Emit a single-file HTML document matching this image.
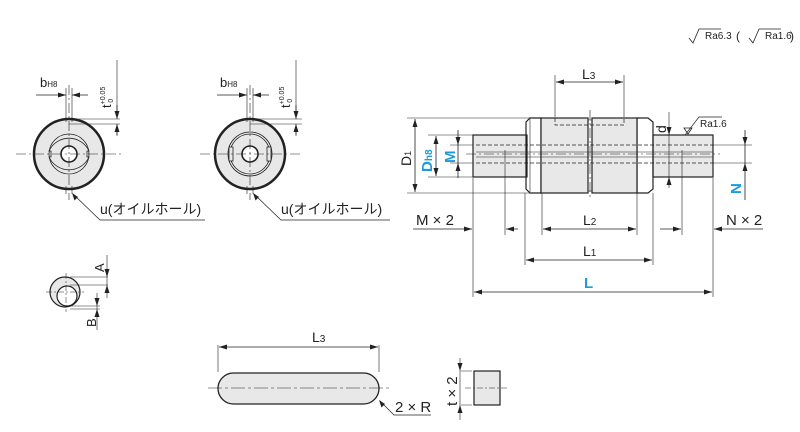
<!DOCTYPE html>
<html><head><meta charset="utf-8"><style>
html,body{margin:0;padding:0;background:#fff}
svg{display:block}
text{font-family:"Liberation Sans","Noto Sans CJK JP",sans-serif;fill:#222}
.b{fill:#1a9be0;font-weight:bold}
line,path{fill:none}
.ar path{fill:#222;stroke:none}
</style></head><body>
<svg width="800" height="432" viewBox="0 0 800 432" xmlns="http://www.w3.org/2000/svg">
<g stroke="#222" fill="none" stroke-width="0.8">
<path d="M689,38l4,5l6,-14h22M749,38l4,5l6,-14h22" />
</g>
<text x="705" y="39" font-size="10">Ra6.3</text>
<text x="736" y="40" font-size="12">(</text>
<text x="765" y="39" font-size="10">Ra1.6</text>
<text x="790" y="40" font-size="12">)</text>

<!-- End view 1 -->
<g stroke="#222" stroke-width="0.8" fill="none">
<circle cx="69" cy="154" r="35" fill="#e8e8e8" stroke-width="2.5"/>
<path d="M49,151 A22,22 0 0 1 89,151 L87,151 L87,157 L89,157 A22,22 0 0 1 49,157 L51,157 L51,151Z" fill="#e8e8e8"/>
<circle cx="69" cy="154" r="20"/>
<circle cx="69" cy="154" r="8" fill="#fff" stroke-width="1.6"/>
<path d="M16,154H122M69,85V200" stroke-dasharray="10,3,2,3" stroke-width="0.6"/>
<path d="M66,88V122M72,88V122M66,186V194M72,186V194" stroke-width="0.6"/>
<path d="M36,95H66M88,95H72"/>
<path d="M69,119H120M69,124H120M117,60V112M117,130V136" stroke-width="0.6"/>
<path d="M117,105V119M117,135V124"/>
<path d="M73,194L100,220H205" stroke-width="0.7"/>
</g>
<text x="40" y="87" font-size="13">b<tspan font-size="8">H8</tspan></text>
<text transform="translate(111,108) rotate(-90)" font-size="13">t<tspan font-size="7" dy="-6">+0.05</tspan><tspan font-size="7" dx="-16" dy="8">0</tspan></text>
<text x="100" y="214" font-size="14">u(オイルホール)</text>

<!-- End view 2 -->
<g stroke="#222" stroke-width="0.8" fill="none">
<circle cx="250" cy="154" r="35" fill="#e8e8e8" stroke-width="2.5"/>
<circle cx="250" cy="154" r="22" fill="#e8e8e8"/>
<circle cx="250" cy="154" r="20"/>
<rect x="229" y="147" width="4" height="14" fill="#e8e8e8"/>
<rect x="267" y="147" width="4" height="14" fill="#e8e8e8"/>
<circle cx="250" cy="154" r="8" fill="#fff" stroke-width="1.6"/>
<path d="M200,154H302M250,85V200" stroke-dasharray="10,3,2,3" stroke-width="0.6"/>
<path d="M247,88V122M253,88V122M247,186V194M253,186V194" stroke-width="0.6"/>
<path d="M217,95H247M269,95H253"/>
<path d="M250,119H302M250,124H302M296,60V112M296,130V136" stroke-width="0.6"/>
<path d="M296,105V119M296,135V124"/>
<path d="M254,194L281,220H390" stroke-width="0.7"/>
</g>
<text x="220" y="87" font-size="13">b<tspan font-size="8">H8</tspan></text>
<text transform="translate(290,108) rotate(-90)" font-size="13">t<tspan font-size="7" dy="-6">+0.05</tspan><tspan font-size="7" dx="-16" dy="8">0</tspan></text>
<text x="281" y="214" font-size="14">u(オイルホール)</text>

<!-- small circle -->
<g stroke="#222" stroke-width="0.8" fill="none">
<circle cx="65" cy="292" r="15" fill="#e8e8e8" stroke-width="1.2"/>
<circle cx="67" cy="296" r="10" fill="#fff" stroke-width="1.2"/>
<path d="M46,292H84M66,273V312" stroke-dasharray="6,2,2,2" stroke-width="0.5"/>
<path d="M70,277H108M70,285H108M70,306H100M70,309H100M107,255V298M97,293V330" stroke-width="0.6"/>
</g>
<text transform="translate(104,272) rotate(-90)" font-size="13">A</text>
<text transform="translate(96,327) rotate(-90)" font-size="13">B</text>

<!-- pin -->
<g stroke="#222" stroke-width="0.8" fill="none">
<rect x="218" y="373" width="161" height="31" rx="15.5" fill="#e8e8e8" stroke-width="1.3"/>
<path d="M208,388H392" stroke-dasharray="14,3,3,3" stroke-width="0.6"/>
<path d="M218,345V372M379,345V372" stroke-width="0.6"/>
<path d="M219,347H378"/>
<path d="M431,415H394L380,401" stroke-width="0.7"/>
<rect x="474" y="371" width="26" height="34" fill="#e8e8e8" stroke-width="1.2"/>
<path d="M465,388H508" stroke-dasharray="6,2,2,2" stroke-width="0.5"/>
<path d="M461,371H472M461,405H472M460,358V420" stroke-width="0.6"/>
</g>
<text x="312" y="342" font-size="14">L<tspan font-size="10">3</tspan></text>
<text x="395" y="412" font-size="15">2 × R</text>
<text transform="translate(457,406) rotate(-90)" font-size="15">t × 2</text>

<!-- main shaft -->
<g stroke="#222" stroke-width="1" fill="none">
<rect x="473" y="135" width="54" height="42" fill="#e8e8e8" stroke-width="1.2"/>
<rect x="653" y="135" width="60" height="42" fill="#e8e8e8" stroke-width="1.2"/>
<path d="M530,118H541V193H530L526,189V122Z" fill="#e8e8e8" stroke-width="1.2"/>
<path d="M637,118H648L653,122V189L648,193H637Z" fill="#e8e8e8" stroke-width="1.2"/>
<rect x="541" y="118" width="47" height="75" fill="#e8e8e8" stroke-width="1.2"/>
<rect x="592" y="118" width="45" height="75" fill="#e8e8e8" stroke-width="1.2"/>
<path d="M588,120H592V191H588Z" fill="#e8e8e8" stroke-width="0.6"/>
<path d="M530,119V192" stroke-width="0.6"/>
<path d="M476,145H713M476,163H713M555,118V125H624V118" stroke-dasharray="4,2" stroke-width="0.7"/>
<path d="M466,154H720M590,110V200" stroke-dasharray="10,3,2,3" stroke-width="0.6"/>
<path d="M476,152H713M476,157H713" stroke-width="0.5"/>
<g stroke-width="0.6">
<path d="M407,118H530M428,135H473M450,145H473M450,163H473M428,177H473M407,193H530"/>
<path d="M555,75V117M624,75V117"/>
<path d="M473,178V297M505,150V235M525,193V265M542,193V235M637,193V235M653,193V265M682,150V235M713,178V297"/>
<path d="M713,145H752M713,163H752M669,112V188"/>
</g>
</g>
<g stroke="#222" stroke-width="0.8" fill="none">
<path d="M556,82H623M415,119V192M436,136V176M458,130V178M745,130V200"/>
<path d="M413,229H472M518,229H506M543,229H636M526,260H652M474,292H712M660,229H681M763,229H714"/>
<path d="M685,135L699,117H722" stroke-width="0.7"/>
<path d="M684,128L692,128L688,134Z"/>
</g>

<!-- arrowheads -->
<g class="ar">
<path d="M66,95l-8,-2.5v5z"/><path d="M72,95l8,-2.5v5z"/>
<path d="M117,119l-2.5,-8h5z"/><path d="M117,124l-2.5,8h5z"/>
<path d="M72,193l2.5,7.5l3.5,-3.5z"/>
<path d="M247,95l-8,-2.5v5z"/><path d="M253,95l8,-2.5v5z"/>
<path d="M296,119l-2.5,-8h5z"/><path d="M296,124l-2.5,8h5z"/>
<path d="M253,193l2.5,7.5l3.5,-3.5z"/>
<path d="M107,277l-2.5,-8h5z"/><path d="M107,285l-2.5,8h5z"/>
<path d="M97,306l-2.5,-8h5z"/><path d="M97,309l-2.5,8h5z"/>
<path d="M219,347l8,-2.5v5z"/><path d="M378,347l-8,-2.5v5z"/>
<path d="M379,400l2.5,7.5l3.5,-3.5z"/>
<path d="M460,371l-2.5,-8h5z"/><path d="M460,405l-2.5,8h5z"/>
<path d="M556,82l8,-2.5v5z"/><path d="M623,82l-8,-2.5v5z"/>
<path d="M415,119l-2.5,8h5z"/><path d="M415,192l-2.5,-8h5z"/>
<path d="M436,136l-2.5,8h5z"/><path d="M436,176l-2.5,-8h5z"/>
<path d="M458,145l-2.5,-8h5z"/><path d="M458,163l-2.5,8h5z"/>
<path d="M745,145l-2.5,-8h5z"/><path d="M745,163l-2.5,8h5z"/>
<path d="M669,135l-2.5,-8h5z"/><path d="M669,177l-2.5,8h5z"/>
<path d="M472,229l-8,-2.5v5z"/><path d="M506,229l8,-2.5v5z"/>
<path d="M543,229l8,-2.5v5z"/><path d="M636,229l-8,-2.5v5z"/>
<path d="M526,260l8,-2.5v5z"/><path d="M652,260l-8,-2.5v5z"/>
<path d="M474,292l8,-2.5v5z"/><path d="M712,292l-8,-2.5v5z"/>
<path d="M681,229l-8,-2.5v5z"/><path d="M714,229l8,-2.5v5z"/>
</g>

<text x="582" y="79" font-size="14">L<tspan font-size="10">3</tspan></text>
<text transform="translate(411,166) rotate(-90)" font-size="14">D<tspan font-size="9">1</tspan></text>
<text transform="translate(432,172) rotate(-90)" font-size="15" class="b">D<tspan font-size="10">h8</tspan></text>
<text transform="translate(455,163) rotate(-90)" font-size="15" class="b">M</text>
<text transform="translate(741,194) rotate(-90)" font-size="15" class="b">N</text>
<text transform="translate(666,133) rotate(-90)" font-size="14">d</text>
<text x="700" y="127" font-size="10">Ra1.6</text>
<text x="416" y="225" font-size="15">M × 2</text>
<text x="726" y="225" font-size="15">N × 2</text>
<text x="583" y="225" font-size="14">L<tspan font-size="10">2</tspan></text>
<text x="583" y="256" font-size="14">L<tspan font-size="10">1</tspan></text>
<text x="584" y="288" font-size="15" class="b">L</text>
</svg>
</body></html>
